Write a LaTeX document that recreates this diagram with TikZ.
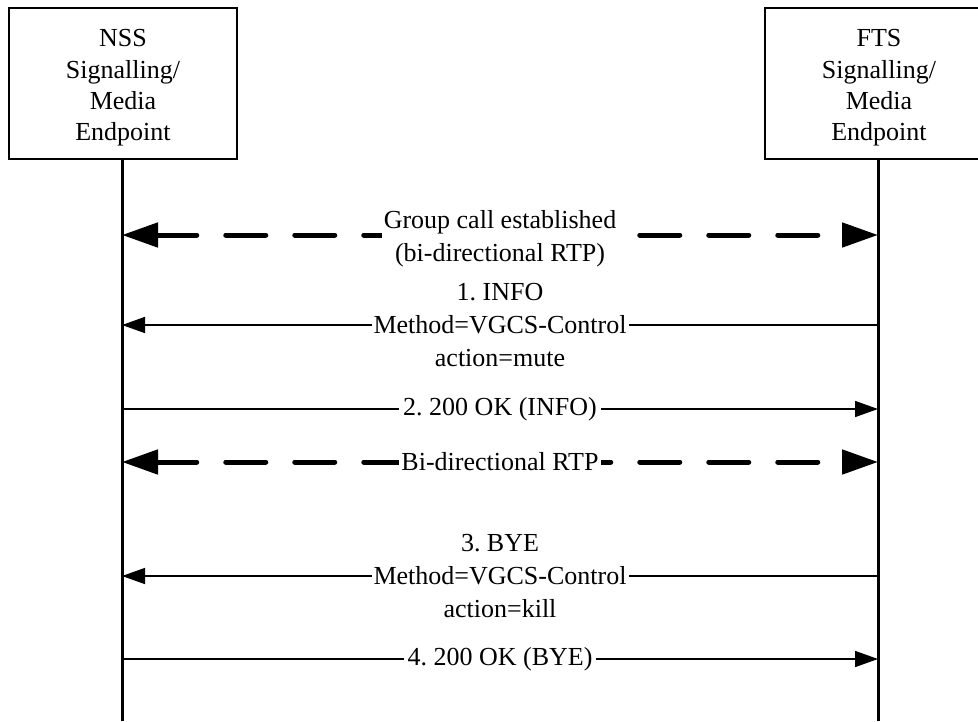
\documentclass[tikz,border=0pt]{standalone}
\usepackage{fontspec}
\setmainfont{Liberation Serif}
\usetikzlibrary{arrows.meta}
\begin{document}
\begin{tikzpicture}[x=1pt,y=-1pt,
  actor/.style={draw, line width=1.5pt, minimum width=228pt, minimum height=151pt,
    inner sep=0pt},
  boxtext/.style={align=center, inner sep=0pt, font=\fontsize{26}{31.3}\selectfont\frenchspacing},
  lifeline/.style={line width=3pt},
  thickdash/.style={line width=5pt, dash pattern=on 40pt off 29pt, line cap=round,
    arrows={Triangle[length=36pt,width=24pt]-Triangle[length=36pt,width=24pt]}},
  msgleft/.style={line width=1.5pt, arrows={Triangle[length=23pt,width=16pt]-}},
  msgright/.style={line width=1.5pt, arrows={-Triangle[length=23pt,width=16pt]}},
  lbl/.style={fill=white, inner xsep=2pt, inner ysep=0pt, align=center,
    font=\fontsize{26}{33}\selectfont\frenchspacing}
]
\useasboundingbox (0,0) rectangle (978,721);

\node[actor] (nss) at (123,83.5) {};
\node[actor] (fts) at (879,83.5) {};
\node[boxtext] (nsstext) at (123,88) {NSS\\Signalling/\\Media\\Endpoint};
\node[boxtext] (ftstext) at (879,88) {FTS\\Signalling/\\Media\\Endpoint};

\coordinate (nssend) at (122,721);
\coordinate (ftsend) at (878,721);
\draw[lifeline] (nss.south -| nssend) -- (nssend);
\draw[lifeline] (fts.south -| ftsend) -- (ftsend);

% row coordinates
\coordinate (l1) at (122,235); \coordinate (r1) at (878,235);
\coordinate (l2) at (122,325); \coordinate (r2) at (878,325);
\coordinate (l3) at (122,409); \coordinate (r3) at (878,409);
\coordinate (l4) at (122,462); \coordinate (r4) at (878,462);
\coordinate (l5) at (122,576); \coordinate (r5) at (878,576);
\coordinate (l6) at (122,659); \coordinate (r6) at (878,659);

\draw[thickdash] (l1) -- node[lbl, yshift=-4pt] (t1) {Group call established\\(bi-directional RTP)} (r1);
\draw[msgleft] (l2) -- node[lbl] (t2) {1. INFO\\Method=VGCS-Control\\action=mute} (r2);
\draw[msgright] (l3) -- node[lbl, inner xsep=4pt] (t3) {2. 200 OK (INFO)} (r3);
\draw[thickdash] (l4) -- node[lbl] (t4) {Bi-directional RTP} (r4);
\draw[msgleft] (l5) -- node[lbl] (t5) {3. BYE\\Method=VGCS-Control\\action=kill} (r5);
\draw[msgright] (l6) -- node[lbl, inner xsep=4pt] (t6) {4. 200 OK (BYE)} (r6);
\end{tikzpicture}
\end{document}
